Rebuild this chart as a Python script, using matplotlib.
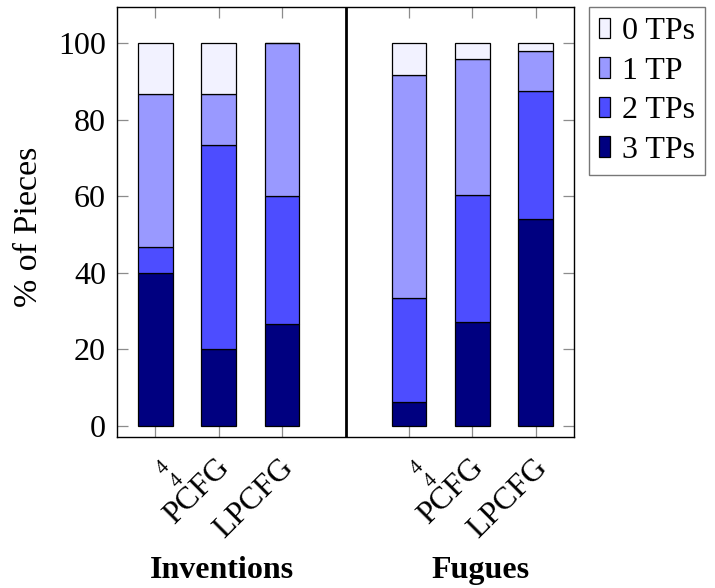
import matplotlib
matplotlib.use("Agg")
import matplotlib.pyplot as plt
import matplotlib.transforms as mtransforms
import numpy as np

plt.rcParams['font.family'] = ['Liberation Serif', 'DejaVu Serif']
plt.rcParams['mathtext.fontset'] = 'stix'

# ---- data ----
groups = ["Inventions", "Fugues"]
methods = ["4\n4", "PCFG", "LPCFG"]
series = ["0 TPs", "1 TP", "2 TPs", "3 TPs"]
colors = ["#F2F2FF", "#9999FF", "#4D4DFF", "#000080"]

# percentages per bar (bars: Inv 4/4, Inv PCFG, Inv LPCFG, Fug 4/4, Fug PCFG, Fug LPCFG)
tp3 = [40.0, 20.0, 26.67, 6.25, 27.08, 54.17]
tp2 = [6.67, 53.33, 33.33, 27.08, 33.33, 33.33]
tp1 = [40.0, 13.33, 40.0, 58.33, 35.42, 10.42]
tp0 = [13.33, 13.33, 0.0, 8.33, 4.17, 2.08]

positions = [0, 1, 2, 4, 5, 6]
tick_labels = methods + methods

FS = 23

fig = plt.figure(figsize=(7.15, 5.88), dpi=100)
ax = fig.add_axes([117/715, 1-437/588, (574-117)/715, (437-7.3)/588])

width = 0.55
bottom = np.zeros(len(positions))
stack = [tp3, tp2, tp1, tp0]
stack_labels = [series[3], series[2], series[1], series[0]]
stack_colors = [colors[3], colors[2], colors[1], colors[0]]
handles = {}
for vals, lab, col in zip(stack, stack_labels, stack_colors):
    v = np.array(vals)
    h = ax.bar(positions, v, width=width, bottom=bottom, color=col,
               edgecolor='black', linewidth=0.9, label=lab, zorder=3)
    handles[lab] = h
    bottom = bottom + v

ax.set_xlim(-0.6, 6.6)
ax.set_ylim(-2.9, 109.4)
ax.axvline(3, color='black', linewidth=2.0, zorder=4)

ax.set_yticks([0, 20, 40, 60, 80, 100])
ax.set_xticks(positions)
ax.set_xticklabels(tick_labels)
ax.tick_params(axis='both', which='both', direction='in', length=8,
               width=0.9, color='#8c8c8c', top=True, right=True,
               labelsize=FS)
ax.tick_params(axis='y', pad=8)
ax.tick_params(axis='x', pad=19)
for lbl in ax.get_xticklabels():
    lbl.set_rotation(45)
    lbl.set_rotation_mode('anchor')
    lbl.set_ha('right')
    lbl.set_va('center')
    if '\n' in lbl.get_text():
        lbl.set_fontsize(15)
        lbl.set_linespacing(1.0)
        lbl.set_ha('center')
        off = mtransforms.ScaledTranslation(15/100, -11/100, fig.dpi_scale_trans)
    else:
        off = mtransforms.ScaledTranslation(7/100, 0, fig.dpi_scale_trans)
    lbl.set_transform(lbl.get_transform() + off)

for sp in ax.spines.values():
    sp.set_linewidth(1.0)
    sp.set_color('black')

ax.set_ylabel("% of Pieces", fontsize=24.5)
ax.yaxis.set_label_coords(-0.16, 0.49)

bt = mtransforms.blended_transform_factory(ax.transData, ax.transAxes)
ax.text(1.06, -0.31, groups[0], transform=bt,
        ha='center', va='center', fontsize=FS, fontweight='bold')
ax.text(5.13, -0.31, groups[1], transform=bt,
        ha='center', va='center', fontsize=FS, fontweight='bold')

leg = fig.legend([handles[s] for s in series], series,
                 loc='upper left', bbox_to_anchor=(589/715, 1-7/588),
                 borderaxespad=0, fontsize=FS, frameon=True, fancybox=False,
                 handlelength=0.35, handleheight=0.6, handletextpad=0.35,
                 labelspacing=0.33, borderpad=0.32)
leg.get_frame().set_edgecolor('#555555')
leg.get_frame().set_linewidth(1.0)

fig.savefig("out.png", dpi=100)
